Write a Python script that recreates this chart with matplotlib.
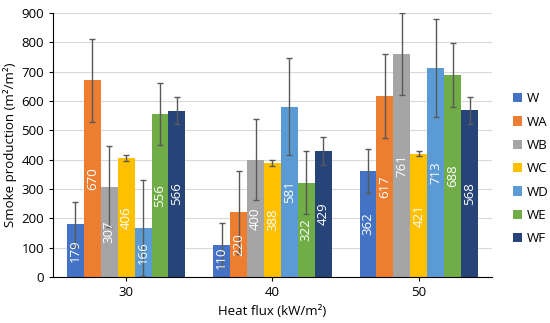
import matplotlib
matplotlib.use("Agg")
import matplotlib.pyplot as plt
import numpy as np

heat_flux = ["30", "40", "50"]
series = ["W", "WA", "WB", "WC", "WD", "WE", "WF"]
values = {
    "W":  [179, 110, 362],
    "WA": [670, 220, 617],
    "WB": [307, 400, 761],
    "WC": [406, 388, 421],
    "WD": [166, 581, 713],
    "WE": [556, 322, 688],
    "WF": [566, 429, 568],
}
errors = {
    "W":  [76, 75, 75],
    "WA": [142, 142, 144],
    "WB": [138, 138, 139],
    "WC": [9, 10, 8],
    "WD": [164, 166, 167],
    "WE": [107, 108, 109],
    "WF": [46, 47, 47],
}
colors = ["#4472C4", "#ED7D31", "#A5A5A5", "#FFC000", "#5B9BD5", "#70AD47", "#264478"]

plt.rcParams['font.family'] = ['Open Sans', 'DejaVu Sans']
fig = plt.figure(figsize=(5.5, 3.23), dpi=100)
ax = fig.add_axes([0.0964, 0.1424, 0.798, 0.8174])

x = np.arange(len(heat_flux))
n = len(series)
group_w = 0.81
bw = group_w / n
for i, (s, c) in enumerate(zip(series, colors)):
    pos = x - group_w / 2 + bw * (i + 0.5)
    v = values[s]
    ax.bar(pos, v, width=bw, color=c, label=s, zorder=2)
    ax.errorbar(pos, v, yerr=errors[s], fmt='none', ecolor='#595959',
                elinewidth=1, capsize=2.5, capthick=1, zorder=3)
    for p, val in zip(pos, v):
        ax.text(p, max(val / 2, 64), str(val), rotation=90, ha='center', va='center',
                color='white', fontsize=9.5, zorder=4)

ax.set_xlim(-0.5, 2.5)
ax.set_ylim(0, 900)
ax.set_yticks(np.arange(0, 901, 100))
ax.set_xticks(x)
ax.set_xticklabels(heat_flux)
ax.tick_params(axis='both', labelsize=9.5, length=3, color='black')
ax.yaxis.grid(True, color='#D9D9D9', linewidth=0.8, zorder=0)
ax.set_axisbelow(True)
for sp in ['top', 'right']:
    ax.spines[sp].set_visible(False)
ax.spines['left'].set_color('black')
ax.spines['bottom'].set_color('black')
ax.set_ylabel("Smoke production (m²/m²)", fontsize=9.5, labelpad=3)
ax.set_xlabel("Heat flux (kW/m²)", fontsize=9.5, labelpad=4)

ax.legend(loc='center left', bbox_to_anchor=(1.02, 0.41), frameon=False,
          fontsize=9.5, handlelength=0.7, handleheight=0.7, labelspacing=0.78,
          handletextpad=0.4)

fig.savefig("out.png", dpi=100)
